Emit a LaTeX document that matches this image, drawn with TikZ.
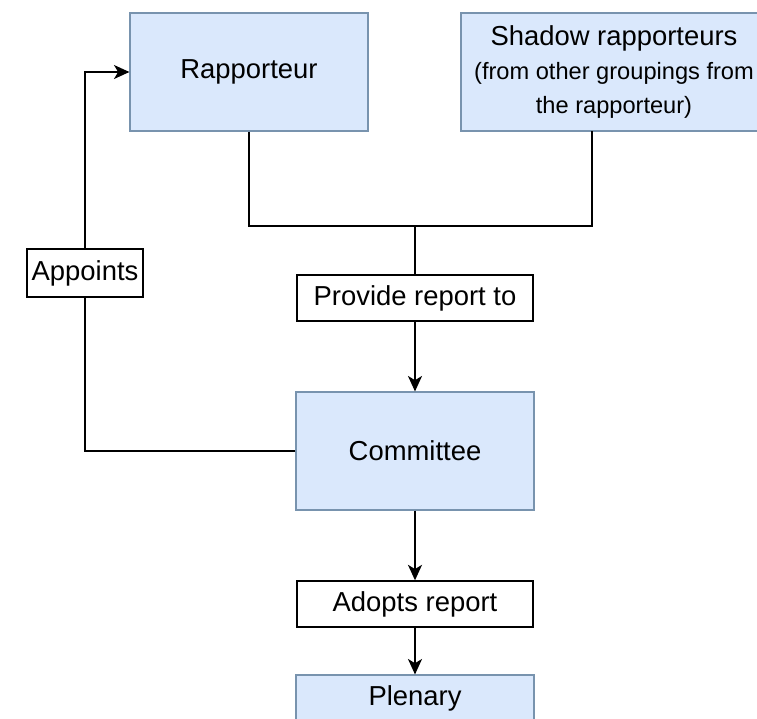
\documentclass[tikz,border=0pt]{standalone}
\usepackage{fontspec}
\setsansfont{Liberation Sans}
\usetikzlibrary{arrows.meta}
\definecolor{boxblue}{HTML}{DAE8FC}
\definecolor{boxline}{HTML}{7893AE}

\begin{document}
\begin{tikzpicture}[x=0.025cm,y=-0.025cm,
  body/.style={rectangle,draw=boxline,line width=0.8pt,fill=boxblue,minimum width=5.95cm,minimum height=2.95cm,font=\fontsize{19.5}{23}\selectfont,inner sep=0pt},
  tag/.style={rectangle,draw=black,line width=1pt,fill=white,minimum width=5.9cm,minimum height=1.15cm,font=\fontsize{19.5}{23}\selectfont,inner sep=0pt},
  link/.style={line width=1.1pt},
  flow/.style={line width=1.1pt,-{Stealth[length=11pt,width=10pt,inset=3pt]}}]
  \sffamily
  \useasboundingbox (0,0) rectangle (757,718);

  %BOXES
  \node[body] (rapporteur) at (249,72){Rapporteur};
  \node[body,minimum width=7.65cm,align=center] (shadow) at (614,72){Shadow rapporteurs\\[1pt]{\fontsize{16.8}{23}\selectfont(from other groupings from}\\[1pt]{\fontsize{16.8}{23}\selectfont the rapporteur)}};
  \node[body] (committee) at (415,451){Committee};
  \node[body,minimum height=1.15cm] (plenary) at (415,698){Plenary};

  %LABELS
  \node[tag] (provide) at (415,298){Provide report to};
  \node[tag] (adopts) at (415,604){Adopts report};
  \node[tag,minimum width=2.9cm,minimum height=1.2cm] (appoints) at (85,273){Appoints};

  \coordinate (join) at (415,226);
  \coordinate (shadowfoot) at (592,131);

  %CONNECTORS
  \draw[link] (rapporteur.south) |- (join) -| (shadowfoot);
  \draw[link] (join) -- (provide.north);
  \draw[flow] (provide.south) -- (committee.north);
  \draw[link] (committee.west) -| (appoints.south);
  \draw[flow] (appoints.north) |- (rapporteur.west);
  \draw[flow] (committee.south) -- (adopts.north);
  \draw[flow] (adopts.south) -- (plenary.north);

\end{tikzpicture}
\end{document}
